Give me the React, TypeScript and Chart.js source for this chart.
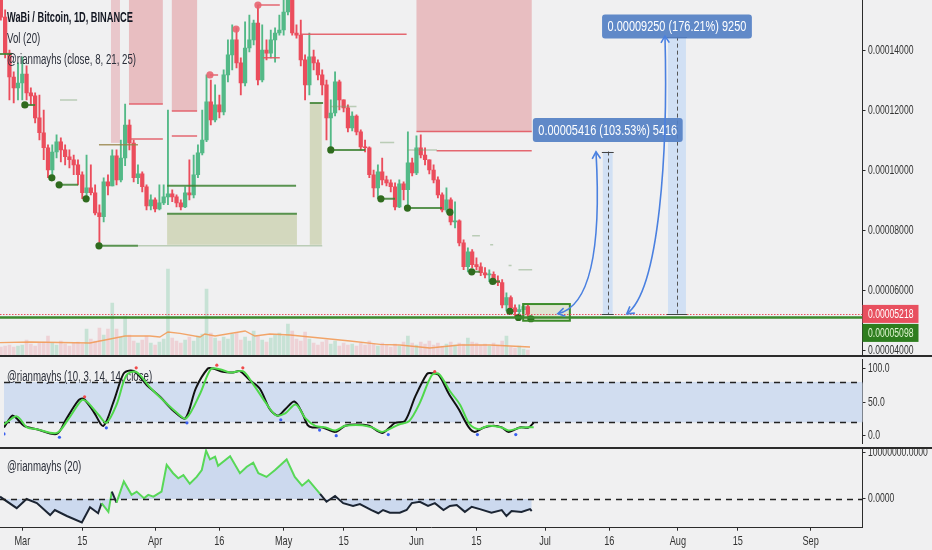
import React, { useEffect, useRef } from "react";
import { Chart, registerables } from "chart.js";

Chart.register(...registerables);

// ---------- style constants ----------
const FONT = '"Liberation Sans", Arial, sans-serif';
const BG = "#f0f0f1";
const UP = "#53b987";
const DOWN = "#eb4d5c";
const AXIS_COLOR = "#2b2b2b";
const AXIS_W = 69.5;
const AXIS_FONT = `12.3px ${FONT}`;
const AXIS_SX = 0.7;
const LEGEND_FONT = `14px ${FONT}`;
const LEGEND_SX = 0.69;

// ---------- axes ----------
const X_MIN = -5.2;
const X_MAX = 196.1;
const xTickDays = [0, 14, 31, 46, 61, 75, 92, 106, 122, 137, 153, 167, 184];
const xTickLabels = ["Mar", "15", "Apr", "16", "May", "15", "Jun", "15", "Jul", "16", "Aug", "15", "Sep"];

const PRICE_MIN = 3847; // satoshi
const PRICE_MAX = 15690;
const priceTicks = [4000, 6000, 8000, 10000, 12000, 14000];
const VOL_MAX = 1065;

const STOCH_MIN = -10.5;
const STOCH_MAX = 114.1;
const stochTicks = [0, 50, 100];
const stochBand = [20, 80];

const OSC_MIN = -6.24;
const OSC_MAX = 11.3;
const oscTicks = [0, 10];

// ---------- candles (day 0 = Mar 1; prices in satoshi) ----------
const FIRST_DAY = -5;
const FIRST_OPEN = 15750;
const closes = [
  15120, 13920, 13120, 12760, 12920, 13220, 12590, 12490, 11760, 11260,
  10760, 10020, 10620, 10960, 10690, 10460, 10360, 10190, 9860, 9260,
  9420, 9260, 8590, 8460, 9620, 9490, 10490, 9690, 10420, 11520,
  10920, 9760, 9890, 9460, 8820, 9020, 8720, 8920, 9120, 9220,
  9120, 8920, 8790, 9260, 9190, 9860, 10590, 11020, 12290, 11690,
  12190, 11960, 13190, 13860, 14360, 13590, 12920, 14090, 14360, 14920,
  13020, 14020, 13920, 14360, 14590, 14690, 15290, 16020, 14590, 14520,
  13690, 12860, 13790, 13590, 13190, 12860, 11760, 11920, 12960, 12360,
  12090, 11420, 11820, 11290, 10790, 10760, 9860, 9420, 9960, 9690,
  9590, 9460, 8790, 9560, 9360, 10260, 9920, 10760, 10520, 10360,
  10020, 9690, 9190, 8690, 9020, 8290, 8320, 7590, 6790, 7290,
  6860, 6790, 6590, 6520, 6540, 6320, 6260, 5520, 5760, 5420,
  5290, 5360, 5460, 5218,
];
const highs = [
  15800, 15360, 14020, 13290, 13590, 13790, 13490, 12760, 12590, 12520,
  12020, 10860, 10860, 11190, 11090, 10860, 10690, 10520, 10360, 9960,
  10520, 10190, 9520, 8860, 9760, 9860, 10690, 10690, 11020, 12220,
  11690, 11020, 10190, 9960, 9520, 9190, 9090, 9520, 9520, 12020,
  9360, 9190, 9020, 9460, 10360, 10520, 10860, 12020, 13190, 13020,
  12860, 12520, 13360, 14360, 14860, 14760, 13760, 14960, 15190, 15020,
  15520, 14860, 14360, 14690, 14760, 15190, 15690, 16400, 16400, 14860,
  15020, 13860, 14590, 14020, 13690, 13360, 13020, 12360, 13290, 13020,
  12360, 12190, 11960, 11860, 11360, 11020, 10790, 10020, 10190, 10420,
  9820, 9690, 9590, 9690, 9620, 11290, 10420, 11160, 11190, 10760,
  10360, 10190, 9790, 9260, 9420, 9090, 8960, 8360, 7690, 7420,
  7360, 7090, 6920, 6760, 6690, 6620, 6490, 6360, 5920, 5820,
  5520, 5520, 5560, 5520,
];
const lows = [
  15020, 13760, 12360, 12260, 12360, 12360, 12360, 12190, 11590, 11020,
  10360, 9760, 9860, 10420, 10290, 10190, 10090, 9860, 9520, 9060,
  9090, 9190, 8520, 7490, 8290, 9190, 9490, 9520, 9620, 10160,
  10690, 9620, 9560, 9290, 8690, 8690, 8620, 8690, 8860, 8860,
  8960, 8790, 8690, 8760, 9020, 9090, 9760, 10520, 10960, 11520,
  11620, 11760, 11860, 12960, 13360, 13420, 12520, 12820, 13960, 14190,
  12860, 12960, 13690, 13760, 13620, 14520, 14520, 15190, 14520, 14420,
  13490, 12360, 12520, 13360, 13020, 12520, 11020, 10690, 11820, 12020,
  11960, 11290, 11320, 11190, 10690, 10620, 9760, 9120, 9060, 9520,
  9490, 9290, 8690, 8760, 9020, 8760, 9820, 9860, 10420, 10190,
  9890, 9590, 9090, 8620, 8620, 8190, 8090, 7490, 6690, 6620,
  6760, 6690, 6490, 6420, 6290, 6260, 6160, 5420, 5320, 5320,
  5120, 5160, 5160, 5098,
];
const volumes = [
  24, 27, 30, 24, 27, 30, 45, 33, 27, 36,
  39, 57, 36, 30, 42, 33, 27, 36, 39, 33,
  78, 48, 42, 81, 60, 78, 156, 78, 54, 117,
  60, 42, 36, 45, 57, 36, 30, 39, 48, 258,
  51, 42, 36, 45, 54, 42, 57, 63, 198, 66,
  51, 42, 54, 48, 63, 66, 45, 54, 42, 72,
  57, 45, 39, 51, 60, 66, 57, 93, 72, 48,
  42, 69, 48, 36, 30, 39, 45, 33, 42, 27,
  36, 30, 33, 27, 36, 30, 42, 33, 27, 36,
  30, 24, 33, 27, 39, 57, 36, 30, 39, 33,
  42, 30, 36, 27, 33, 39, 30, 36, 33, 51,
  39, 36, 30, 33, 27, 36, 30, 42, 57, 24,
  21, 27, 18, 15,
];
const volMaDays = [-5.2, 1.8, 15.8, 18.1, 20.5, 24, 29.8, 32.1, 34, 36.8, 41.5, 42.6, 45, 52, 54.3, 57.8, 62.5, 69.5, 76.5, 83.5, 88.1, 95.1, 102.1, 109.1, 118.5];
const volMaVals = [37, 39, 36, 42, 48, 57, 57, 54, 69, 65, 54, 63, 57, 72, 57, 63, 60, 51, 42, 32, 30, 21, 30, 30, 24];

// ---------- stochastic pane ----------
const kDays = [-5.2, -3.3, -2.2, -0.5, 2.5, 7.2, 9.3, 12.3, 13.5, 15.8, 18.1, 20.5, 22.8, 24.4, 25.8, 28.2, 31.4, 34.5, 37.3, 39.8, 42.6, 43.8, 46.1, 48.5, 50.1, 52.4, 54.8, 57.1, 59.0, 60.8, 62.9, 64.8, 66.0, 67.1, 69.5, 72.5, 74.8, 77.2, 80.4, 83.5, 86.5, 88.8, 91.2, 94.0, 95.1, 96.8, 99.1, 101.4, 103.8, 105.2, 107.3, 109.6, 111.5, 113.1, 115.7, 117.8, 119.0];
const kVals = [12.6, 30, 26, 15, 10, 3, 24, 53, 55, 36, 15, 51, 92, 97, 94, 76, 58, 37.5, 26, 71, 100, 100, 95, 94, 96, 83, 70, 40, 30, 40, 51, 33, 16, 12.6, 12.6, 6, 15, 17, 15, 4.5, 19.5, 22, 58, 92, 93, 90, 62.5, 40, 12.6, 6, 12.6, 15, 12.6, 6, 12.6, 12.6, 19.5];
const dDays = [-5.2, -2.2, 0.2, 2.5, 7.2, 10.0, 13.0, 14.2, 17.0, 18.8, 21.2, 23.5, 25.8, 29.1, 32.1, 35.2, 37.5, 40.8, 43.3, 45.4, 47.8, 50.8, 53.1, 56.2, 58.5, 60.6, 63.2, 65.5, 67.8, 70.2, 72.5, 74.8, 78.8, 81.1, 83.5, 87.4, 89.8, 92.3, 95.1, 96.8, 99.3, 101.7, 104.0, 106.1, 108.4, 111.5, 113.1, 116.1, 119.0];
const dVals = [17, 29, 12.6, 10, 4.5, 26, 53, 51, 31, 19.5, 46.6, 90, 95, 71.5, 53, 35, 26, 63, 99, 99, 94, 96, 78, 49, 31, 33, 46.6, 26, 15, 12.6, 8, 15, 16, 12.6, 6, 17, 22, 49, 90, 92, 67, 46.6, 17, 10, 15, 12.6, 8, 12.6, 13];
const peakDays = [13.7, 25.8, 44.7, 50.8, 95.8];
const peakVals = [58, 101, 105, 101, 95.5];
const troughDays = [-5.2, 7.8, 18.8, 37.7, 59.7, 68.8, 72.7, 84.9, 105.8, 114.8];
const troughVals = [3, -2, 12, 19.4, 24, 8.6, 0.4, 2, 2, 2];

// ---------- oscillator pane (values in millions) ----------
const oscDays = [-5.2, -1.3, 1.0, 3.4, 6.5, 7.6, 10.4, 13.9, 15.8, 17.7, 18.5, 20.1, 20.9, 22.0, 23.7, 25.5, 26.7, 28.4, 29.4, 30.6, 32.5, 33.7, 35.2, 36.4, 37.6, 39.1, 40.7, 41.9, 42.9, 43.8, 45.0, 45.7, 48.5, 50.8, 52.4, 53.9, 55.1, 57.0, 59.0, 61.7, 63.6, 65.3, 66.8, 69.5, 71.0, 73.0, 74.9, 77.2, 78.8, 81.5, 83.1, 84.2, 85.8, 88.1, 89.7, 90.9, 92.8, 94.7, 96.3, 98.3, 99.8, 101.4, 103.3, 104.9, 106.8, 109.5, 111.9, 113.0, 114.2, 116.5, 118.5, 118.9];
const oscVals = [0.5, -2, 0, -0.9, -3.5, -2.4, -3.7, -5.1, -1.8, -3.1, -0.9, -2.8, 1.6, -0.8, 3.8, 0.9, 1.6, 0.15, 0.9, 0.5, 1.6, 7.4, 5.6, 4.5, 5.2, 3.3, 4.8, 6.3, 10.5, 8.6, 9.2, 7.2, 9.3, 5.6, 7.0, 7.9, 5.6, 4.8, 6.3, 8.6, 4.8, 2.9, 4.1, 1.1, -0.6, 0.65, -0.9, -1.5, -1.1, -2.4, -3.1, -2.4, -3, -3, -2.4, -0.9, -0.6, -1.5, -0.9, -2.4, -1.5, -1.3, -2.8, -1.7, -2.2, -3, -2.4, -3.7, -2.6, -2.8, -2.2, -2.6];
const oscGreen = [
  0, 0, 0, 0, 0, 0, 0, 0, 0, 0,
  1, 1, 0, 1, 1, 1, 1, 1, 1, 1,
  1, 1, 1, 1, 1, 1, 1, 1, 1, 1,
  1, 1, 1, 1, 1, 1, 1, 1, 1, 1,
  1, 1, 1, 0, 0, 0, 0, 0, 0, 0,
  0, 0, 0, 0, 0, 0, 0, 0, 0, 0,
  0, 0, 0, 0, 0, 0, 0, 0, 0, 0,
  0, 0,
];

// ---------- drawings on the price pane (day, satoshi) ----------
const pinkZones = [[20.7, 22.8, 10923], [24.9, 32.8, 12223], [34.9, 40.8, 11990], [92.0, 118.9, 11300]];
const redLines = [[24.9, 32.8, 12223], [34.9, 40.8, 11990], [92.0, 118.9, 11300], [24.9, 32.8, 11057], [34.9, 40.8, 11157], [96.7, 118.9, 10657], [64.8, 89.7, 14547], [56.2, 60.1, 13767], [43.8, 45.7, 13190], [55.0, 60.1, 15523]];
const redDots = [[43.8, 13190], [49.9, 14723], [55.0, 15523]];
const tanLines = [[17.9, 27.0, 10857]];
const oliveZones = [[33.8, 64.1, 7523, 8557], [67.1, 69.9, 7523, 12257]];
const greenLines = [[-5.2, -2.4, 13890], [0.6, 3.0, 12190], [8.6, 13.0, 9523], [17.9, 27.0, 7490], [33.8, 63.9, 9490], [33.8, 64.1, 8557], [67.1, 70.2, 12257], [72.0, 80.0, 10690], [83.7, 87.0, 9057], [89.9, 98.0, 8747], [104.9, 106.8, 6623], [109.8, 111.5, 6300]];
const paleLines = [[27.0, 70.0, 7490], [90.0, 96.8, 10690], [8.8, 12.8, 12357], [83.5, 86.8, 10933], [105.0, 106.8, 7823], [72.0, 78.0, 12140], [115.8, 119.0, 6690], [109.2, 109.9, 7523], [113.5, 114.2, 6834]];
const greenDots = [[0.6, 12190], [6.9, 9757], [8.6, 9523], [14.9, 9057], [17.9, 7490], [72.0, 10690], [83.7, 9057], [89.9, 8747], [99.8, 8613], [104.9, 6623], [109.8, 6300], [113.8, 5300], [115.8, 5100], [118.7, 5057]];
const supportBox = [116.9, 127.8, 4990, 5547];
const LAST_PRICE = 5218;
const SUPPORT_PRICE = 5098;
const measureDays = [[135.5, 137.8], [150.7, 154.9]];
const measureBase = [5218, 5218];
const measureDelta = [5416, 9250];
const measurePct = ["103.53%", "176.21%"];
const measureLabelPrice = [11357, 14807];
const arrowCurves = [
  [125.0, 5223, 134.4, 5523, 134.8, 8357, 133.9, 10623],
  [141.1, 5223, 148.8, 6024, 150.7, 10690, 150.0, 14490],
];
const titleLines = ["WaBi / Bitcoin, 1D, BINANCE", "Vol (20)", "@rianmayhs (close, 8, 21, 25)"];
const stochTitle = "@rianmayhs (10, 3, 14, 14, close)";
const oscTitle = "@rianmayhs (20)";

// ---------- helpers ----------
function narrowText(ctx: CanvasRenderingContext2D, text: string, x: number, y: number, font: string, color: string, sx: number, align: CanvasTextAlign = "left") {
  ctx.save();
  ctx.font = font;
  ctx.fillStyle = color;
  ctx.textBaseline = "middle";
  ctx.textAlign = align;
  ctx.translate(x, y);
  ctx.scale(sx, 1);
  ctx.fillText(text, 0, 0);
  ctx.restore();
}

function yAxis(min: number, max: number, ticks: number[]) {
  return {
    type: "linear",
    position: "right",
    min,
    max,
    afterBuildTicks: (s: any) => {
      s.ticks = ticks.map((v) => ({ value: v }));
    },
    afterFit: (s: any) => {
      s.width = AXIS_W;
      s.paddingTop = 0;
      s.paddingBottom = 0;
    },
    ticks: { font: { family: FONT, size: 11 }, color: "rgba(0,0,0,0)", padding: 2, autoSkip: false },
    grid: { drawOnChartArea: false, drawTicks: true, tickLength: 3, color: AXIS_COLOR },
    border: { display: true, color: AXIS_COLOR, width: 1 },
  };
}

function drawYLabels(chart: any, fmt: (v: number) => string) {
  const s = chart.scales.y;
  s.ticks.forEach((t: any) => {
    narrowText(chart.ctx, fmt(t.value), s.left + 5.5, s.getPixelForValue(t.value), AXIS_FONT, "#333", AXIS_SX);
  });
}

const hiddenX = { type: "linear", min: X_MIN, max: X_MAX, offset: false, display: false };

const baseOptions = {
  animation: false,
  responsive: false,
  maintainAspectRatio: false,
  events: [],
  layout: { padding: 0 },
  plugins: { legend: { display: false }, tooltip: { enabled: false } },
};

function arrowHead(ctx: CanvasRenderingContext2D, tx: number, ty: number, fx: number, fy: number, size: number) {
  const ang = Math.atan2(ty - fy, tx - fx);
  ctx.beginPath();
  ctx.moveTo(tx - size * Math.cos(ang - 0.55), ty - size * Math.sin(ang - 0.55));
  ctx.lineTo(tx, ty);
  ctx.lineTo(tx - size * Math.cos(ang + 0.55), ty - size * Math.sin(ang + 0.55));
  ctx.stroke();
}

function hLine(ctx: CanvasRenderingContext2D, x0: number, x1: number, y: number, color: string, w: number, dash: number[] = []) {
  ctx.beginPath();
  ctx.setLineDash(dash);
  ctx.strokeStyle = color;
  ctx.lineWidth = w;
  ctx.moveTo(x0, y);
  ctx.lineTo(x1, y);
  ctx.stroke();
  ctx.setLineDash([]);
}

// ---------- plugins ----------
const mainPlugin = {
  id: "mainDecor",
  beforeDatasetsDraw(chart: any) {
    const { ctx, chartArea: a } = chart;
    const X = (d: number) => chart.scales.x.getPixelForValue(d);
    const Y = (p: number) => chart.scales.y.getPixelForValue(p);
    ctx.save();
    ctx.beginPath();
    ctx.rect(a.left, a.top, a.right - a.left, a.bottom - a.top);
    ctx.clip();
    pinkZones.forEach(([d0, d1, p], i) => {
      ctx.fillStyle = i === 0 ? "rgba(222,128,136,0.36)" : "rgba(222,128,136,0.45)";
      ctx.fillRect(X(d0), a.top, X(d1) - X(d0), Y(p) - a.top);
    });
    oliveZones.forEach(([d0, d1, p0, p1]) => {
      ctx.fillStyle = "rgba(172,184,118,0.42)";
      ctx.fillRect(X(d0), Y(p1), X(d1) - X(d0), Y(p0) - Y(p1));
    });
    const [b0, b1, bp0, bp1] = supportBox;
    ctx.fillStyle = "rgba(200,210,165,0.4)";
    ctx.fillRect(X(b0), Y(bp1), X(b1) - X(b0), Y(bp0) - Y(bp1));
    measureDays.forEach(([d0, d1], i) => {
      const top = Y(measureBase[i] + measureDelta[i]);
      const bot = Y(measureBase[i]);
      ctx.fillStyle = "rgba(184,212,246,0.55)";
      ctx.fillRect(X(d0), top, X(d1) - X(d0), bot - top);
    });
    ctx.restore();
  },
  afterDatasetsDraw(chart: any) {
    const { ctx, chartArea: a } = chart;
    const X = (d: number) => chart.scales.x.getPixelForValue(d);
    const Y = (p: number) => chart.scales.y.getPixelForValue(p);
    ctx.save();
    ctx.beginPath();
    ctx.rect(a.left, a.top, a.right - a.left, a.bottom - a.top);
    ctx.clip();
    redLines.forEach(([d0, d1, p]) => hLine(ctx, X(d0), X(d1), Y(p), "rgba(226,88,98,0.9)", 1.5));
    tanLines.forEach(([d0, d1, p]) => hLine(ctx, X(d0), X(d1), Y(p), "rgba(150,130,70,0.8)", 1.5));
    paleLines.forEach(([d0, d1, p]) => hLine(ctx, X(d0), X(d1), Y(p), "rgba(120,160,110,0.45)", 1.5));
    greenLines.forEach(([d0, d1, p]) => hLine(ctx, X(d0), X(d1), Y(p), "rgba(62,130,52,0.85)", 2));
    redDots.forEach(([d, p]) => {
      ctx.beginPath();
      ctx.fillStyle = "rgba(232,100,112,0.9)";
      ctx.arc(X(d), Y(p), 3.6, 0, Math.PI * 2);
      ctx.fill();
    });
    greenDots.forEach(([d, p]) => {
      ctx.beginPath();
      ctx.fillStyle = "#2f6b1e";
      ctx.arc(X(d), Y(p), 3.6, 0, Math.PI * 2);
      ctx.fill();
    });
    const [b0, b1, bp0, bp1] = supportBox;
    ctx.strokeStyle = "#3d8c2a";
    ctx.lineWidth = 2;
    ctx.strokeRect(X(b0), Y(bp1), X(b1) - X(b0), Y(bp0) - Y(bp1));
    // last price & support lines
    hLine(ctx, a.left, a.right, Y(SUPPORT_PRICE), "#3b8a2e", 2.5);
    hLine(ctx, a.left, a.right, Math.round(Y(LAST_PRICE)) + 0.5, "#e8505f", 1, [1.5, 1.5]);
    // measurement tools
    measureDays.forEach(([d0, d1], i) => {
      const top = Y(measureBase[i] + measureDelta[i]);
      const bot = Y(measureBase[i]);
      const xc = Math.round((X(d0) + X(d1)) / 2) + 0.5;
      ctx.beginPath();
      ctx.setLineDash([4, 3]);
      ctx.strokeStyle = "#555";
      ctx.lineWidth = 1;
      ctx.moveTo(xc, top);
      ctx.lineTo(xc, bot);
      ctx.stroke();
      ctx.setLineDash([]);
      hLine(ctx, X(d0) - 1, X(d1) + 1, Math.round(top) + 0.5, "#444", 1);
      hLine(ctx, X(d0) - 1, X(d1) + 1, Math.round(bot) + 0.5, "#444", 1);
    });
    measureDays.forEach(([d0, d1], i) => {
      const xc = (X(d0) + X(d1)) / 2;
      const yc = Y(measureLabelPrice[i]);
      const text = `${(measureDelta[i] / 1e8).toFixed(8)} (${measurePct[i]}) ${measureDelta[i]}`;
      const font = `15px ${FONT}`;
      const sx = 0.73;
      ctx.font = font;
      const tw = ctx.measureText(text).width * sx;
      const bw = tw + 11;
      const bh = 24;
      ctx.fillStyle = "rgba(84,128,196,0.92)";
      ctx.beginPath();
      if ((ctx as any).roundRect) (ctx as any).roundRect(xc - bw / 2, yc - bh / 2, bw, bh, 3);
      else ctx.rect(xc - bw / 2, yc - bh / 2, bw, bh);
      ctx.fill();
      narrowText(ctx, text, xc, yc + 0.5, font, "#ffffff", sx, "center");
    });
    ctx.strokeStyle = "#4a80e0";
    ctx.lineWidth = 1.6;
    arrowCurves.forEach((c) => {
      const p = [X(c[0]), Y(c[1]), X(c[2]), Y(c[3]), X(c[4]), Y(c[5]), X(c[6]), Y(c[7])];
      ctx.beginPath();
      ctx.moveTo(p[0], p[1]);
      ctx.bezierCurveTo(p[2], p[3], p[4], p[5], p[6], p[7]);
      ctx.stroke();
      arrowHead(ctx, p[0], p[1], p[2], p[3], 8);
      arrowHead(ctx, p[6], p[7], p[4], p[5], 8);
    });
    ctx.restore();
    // legend text
    narrowText(ctx, titleLines[0], 7, 18.5, `bold 14px ${FONT}`, "#131722", 0.66);
    narrowText(ctx, titleLines[1], 7, 39.5, LEGEND_FONT, "#2a2e39", LEGEND_SX);
    narrowText(ctx, titleLines[2], 7, 60.5, LEGEND_FONT, "#2a2e39", LEGEND_SX);
  },
  afterDraw(chart: any) {
    const { ctx, chartArea: a } = chart;
    drawYLabels(chart, (v) => (v / 1e8).toFixed(8));
    const Y = (p: number) => chart.scales.y.getPixelForValue(p);
    const yc = Y(LAST_PRICE);
    ctx.save();
    ctx.fillStyle = "#e8505f";
    ctx.fillRect(a.right, yc - 9, 56, 18);
    ctx.fillStyle = "#2e7d1e";
    ctx.fillRect(a.right, yc + 10, 56, 18);
    ctx.restore();
    narrowText(ctx, (LAST_PRICE / 1e8).toFixed(8), a.right + 5.5, yc + 0.5, AXIS_FONT, "#ffffff", AXIS_SX);
    narrowText(ctx, (SUPPORT_PRICE / 1e8).toFixed(8), a.right + 5.5, yc + 19.5, AXIS_FONT, "#dff5d0", AXIS_SX);
  },
};

function paneTopLine(ctx: CanvasRenderingContext2D, width: number) {
  ctx.save();
  ctx.fillStyle = "#2b2b2b";
  ctx.fillRect(0, 0, width, 2);
  ctx.restore();
}

const stochPlugin = {
  id: "stochDecor",
  beforeDatasetsDraw(chart: any) {
    const { ctx, chartArea: a } = chart;
    const Y = (v: number) => chart.scales.y.getPixelForValue(v);
    ctx.save();
    ctx.fillStyle = "rgb(209,221,240)";
    ctx.fillRect(a.left, Y(stochBand[1]), a.right - a.left, Y(stochBand[0]) - Y(stochBand[1]));
    stochBand.forEach((b) => hLine(ctx, a.left, a.right, Math.round(Y(b)) + 0.5, "#222", 1.5, [6, 5]));
    ctx.restore();
    narrowText(ctx, stochTitle, 7, 22.5, LEGEND_FONT, "#2a2e39", LEGEND_SX);
  },
  afterDraw(chart: any) {
    drawYLabels(chart, (v) => v.toFixed(1));
    paneTopLine(chart.ctx, chart.width);
  },
};

const oscPlugin = {
  id: "oscDecor",
  beforeDatasetsDraw(chart: any) {
    narrowText(chart.ctx, oscTitle, 7, 20.5, LEGEND_FONT, "#2a2e39", LEGEND_SX);
  },
  afterDatasetsDraw(chart: any) {
    const { ctx, chartArea: a } = chart;
    const Y = (v: number) => chart.scales.y.getPixelForValue(v);
    ctx.save();
    hLine(ctx, a.left, a.right, Math.round(Y(0)) + 0.5, "#222", 1.5, [6, 5]);
    ctx.restore();
  },
  afterDraw(chart: any) {
    drawYLabels(chart, (v) => (v * 1e6).toFixed(4));
    const s = chart.scales.x;
    s.ticks.forEach((t: any, i: number) => {
      narrowText(chart.ctx, xTickLabels[i], s.getPixelForValue(t.value), s.top + 14, `13.5px ${FONT}`, "#333", 0.68, "center");
    });
    paneTopLine(chart.ctx, chart.width);
  },
};

// ---------- charts ----------
function makeMain(canvas: HTMLCanvasElement) {
  const days = closes.map((_, i) => FIRST_DAY + i);
  const opens = closes.map((_, i) => (i === 0 ? FIRST_OPEN : closes[i - 1]));
  const isUp = closes.map((c, i) => c >= opens[i]);
  const candleColors = isUp.map((u) => (u ? UP : DOWN));
  const volColors = isUp.map((u) => (u ? "rgba(83,185,135,0.26)" : "rgba(235,77,92,0.18)"));
  return new Chart(canvas, {
    type: "bar",
    data: {
      datasets: [
        { type: "bar", data: days.map((d, i) => ({ x: d, y: volumes[i] })), yAxisID: "yv", backgroundColor: volColors, barThickness: 3, grouped: false, order: 6 },
        { type: "line", data: volMaDays.map((d, i) => ({ x: d, y: volMaVals[i] })), yAxisID: "yv", borderColor: "rgba(242,150,80,0.85)", borderWidth: 1.3, pointRadius: 0, order: 5 },
        { type: "bar", data: days.map((d, i) => ({ x: d, y: [lows[i], highs[i]] })), yAxisID: "y", backgroundColor: candleColors, barThickness: 1.2, grouped: false, order: 2 },
        { type: "bar", data: days.map((d, i) => ({ x: d, y: [opens[i], closes[i]] })), yAxisID: "y", backgroundColor: candleColors, barThickness: 3.6, minBarLength: 1, grouped: false, order: 1 },
      ],
    },
    options: {
      ...baseOptions,
      scales: {
        x: hiddenX,
        y: yAxis(PRICE_MIN, PRICE_MAX, priceTicks),
        yv: { type: "linear", display: false, min: 0, max: VOL_MAX },
      },
    },
    plugins: [mainPlugin],
  } as any);
}

function makeStoch(canvas: HTMLCanvasElement) {
  return new Chart(canvas, {
    type: "line",
    data: {
      datasets: [
        { data: kDays.map((d, i) => ({ x: d, y: kVals[i] })), borderColor: "#111", borderWidth: 2, pointRadius: 0, tension: 0.3, order: 3 },
        { data: dDays.map((d, i) => ({ x: d, y: dVals[i] })), borderColor: "#4fd84a", borderWidth: 2, pointRadius: 0, tension: 0.3, order: 2 },
        { data: peakDays.map((d, i) => ({ x: d, y: peakVals[i] })), showLine: false, pointRadius: 1.6, pointBackgroundColor: "#f04a4a", pointBorderWidth: 0, order: 1 },
        { data: troughDays.map((d, i) => ({ x: d, y: troughVals[i] })), showLine: false, pointRadius: 1.6, pointBackgroundColor: "#3a5ff0", pointBorderWidth: 0, order: 1 },
      ],
    },
    options: {
      ...baseOptions,
      scales: {
        x: hiddenX,
        y: yAxis(STOCH_MIN, STOCH_MAX, stochTicks),
      },
    },
    plugins: [stochPlugin],
  } as any);
}

function makeOsc(canvas: HTMLCanvasElement) {
  return new Chart(canvas, {
    type: "line",
    data: {
      datasets: [
        {
          data: oscDays.map((d, i) => ({ x: d, y: oscVals[i] })),
          borderColor: "#58d858",
          borderWidth: 2,
          pointRadius: 0,
          fill: "origin",
          backgroundColor: "rgba(180,201,236,0.6)",
          segment: { borderColor: (c: any) => (oscGreen[c.p0DataIndex] ? "#58d858" : "#1c2533") },
        },
      ],
    },
    options: {
      ...baseOptions,
      scales: {
        x: {
          type: "linear",
          min: X_MIN,
          max: X_MAX,
          offset: false,
          afterBuildTicks: (s: any) => {
            s.ticks = xTickDays.map((v) => ({ value: v }));
          },
          afterFit: (s: any) => {
            s.height = 22.3;
            s.paddingLeft = 0;
            s.paddingRight = 0;
          },
          ticks: { callback: (_v: any, i: number) => xTickLabels[i], font: { family: FONT, size: 12 }, color: "rgba(0,0,0,0)", padding: 1, autoSkip: false, maxRotation: 0 },
          grid: { drawOnChartArea: false, drawTicks: true, tickLength: 3, color: AXIS_COLOR },
          border: { display: true, color: AXIS_COLOR, width: 1 },
        },
        y: yAxis(OSC_MIN, OSC_MAX, oscTicks),
      },
    },
    plugins: [oscPlugin],
  } as any);
}

export default function App() {
  const r1 = useRef<HTMLCanvasElement>(null);
  const r2 = useRef<HTMLCanvasElement>(null);
  const r3 = useRef<HTMLCanvasElement>(null);
  useEffect(() => {
    const c1 = makeMain(r1.current!);
    const c2 = makeStoch(r2.current!);
    const c3 = makeOsc(r3.current!);
    return () => {
      c1.destroy();
      c2.destroy();
      c3.destroy();
    };
  }, []);
  return (
    <div style={{ position: "fixed", left: 0, top: 0, width: 932, height: 550, background: BG, overflow: "hidden" }}>
      <canvas ref={r1} width={932} height={355} style={{ display: "block", width: 932, height: 355 }} />
      <canvas ref={r2} width={932} height={92} style={{ display: "block", width: 932, height: 92 }} />
      <canvas ref={r3} width={932} height={103} style={{ display: "block", width: 932, height: 103 }} />
    </div>
  );
}
